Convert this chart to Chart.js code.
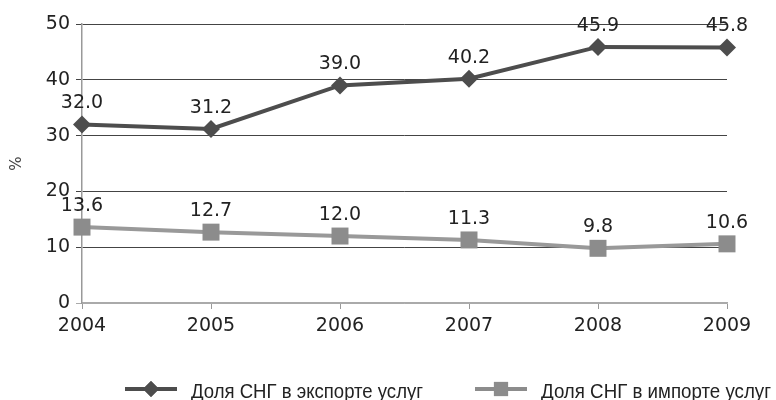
<!DOCTYPE html>
<html>
<head>
<meta charset="utf-8">
<script src="https://cdn.jsdelivr.net/npm/chart.js@4"></script>
<style>
  html, body { margin: 0; padding: 0; background: #fff; }
  #wrap { width: 776px; height: 400px; }
</style>
</head>
<body>
<div id="wrap"><canvas id="chart" width="776" height="400"></canvas></div>
<script>
// dados do gráfico
const years = ['2004', '2005', '2006', '2007', '2008', '2009'];
const exportShare = [32.0, 31.2, 39.0, 40.2, 45.9, 45.8];
const importShare = [13.6, 12.7, 12.0, 11.3, 9.8, 10.6];
const seriesNames = ['Доля СНГ в экспорте услуг', 'Доля СНГ в импорте услуг'];
const yTicks = [0, 10, 20, 30, 40, 50];

const tickFont = { family: 'DejaVu Sans', size: 19 };

// rótulos com os valores acima dos pontos
const valueLabels = {
    id: 'valueLabels',
    afterDatasetsDraw(chart) {
        const ctx = chart.ctx;
        ctx.save();
        ctx.font = '19px "DejaVu Sans"';
        ctx.fillStyle = '#222';
        ctx.textAlign = 'center';
        ctx.textBaseline = 'middle';
        chart.data.datasets.forEach((ds, i) => {
            chart.getDatasetMeta(i).data.forEach((pt, j) => {
                ctx.fillText(ds.data[j].toFixed(1), pt.x, pt.y - 21);
            });
        });
        ctx.restore();
    }
};

// legenda desenhada à mão (linha + marcador), texto estreitado
const bottomLegend = {
    id: 'bottomLegend',
    afterDraw(chart) {
        const ctx = chart.ctx;
        const items = [
            { x: 125, color: '#4d4d4d', style: 'rectRot', r: 8, w: 232 },
            { x: 475, color: '#8c8c8c', style: 'rect', r: 10, w: 230 }
        ];
        const y = 389;
        ctx.save();
        items.forEach((it, i) => {
            ctx.strokeStyle = it.color;
            ctx.lineWidth = 4;
            ctx.beginPath();
            ctx.moveTo(it.x, y);
            ctx.lineTo(it.x + 52, y);
            ctx.stroke();
            ctx.fillStyle = it.color;
            Chart.helpers.drawPoint(ctx, { pointStyle: it.style, radius: it.r, borderWidth: 0 }, it.x + 26, y);
            ctx.fill();

            ctx.fillStyle = '#222';
            ctx.font = '20px "Liberation Sans"';
            ctx.textAlign = 'left';
            ctx.textBaseline = 'middle';
            const tx = it.x + 66;
            const sx = it.w / ctx.measureText(seriesNames[i]).width;
            ctx.save();
            ctx.translate(tx, y + 3);
            ctx.scale(sx, 1);
            ctx.fillText(seriesNames[i], 0, 0);
            ctx.restore();
        });
        ctx.restore();
    }
};

new Chart(document.getElementById('chart'), {
    type: 'line',
    data: {
        labels: years,
        datasets: [{
            label: seriesNames[0],
            data: exportShare,
            borderColor: '#4d4d4d',
            backgroundColor: '#4d4d4d',
            borderWidth: 4,
            pointStyle: 'rectRot',
            pointRadius: 9,
            pointBorderWidth: 0,
            tension: 0
        }, {
            label: seriesNames[1],
            data: importShare,
            borderColor: '#999999',
            backgroundColor: '#8c8c8c',
            borderWidth: 4,
            pointStyle: 'rect',
            pointRadius: 12,
            pointBorderWidth: 0,
            tension: 0
        }]
    },
    options: {
        responsive: false,
        animation: false,
        layout: { padding: { left: 0, right: 49, top: 24, bottom: 0 } },
        plugins: {
            legend: { display: false },
            tooltip: { enabled: false }
        },
        scales: {
            x: {
                offset: false,
                grid: { drawOnChartArea: false, drawTicks: true, tickLength: 6, tickColor: '#999' },
                border: { color: '#aaa', width: 1.5 },
                ticks: { font: tickFont, color: '#222', padding: 6, maxRotation: 0 },
                afterFit(scale) { scale.height = 97; }
            },
            y: {
                min: 0,
                max: 50,
                afterBuildTicks(scale) { scale.ticks = yTicks.map(v => ({ value: v })); },
                grid: {
                    color: ctx => ctx.tick && ctx.tick.value === 0 ? '#aaa' : '#444',
                    tickLength: 6,
                    lineWidth: 1
                },
                border: { color: '#999', width: 1.5 },
                ticks: { font: tickFont, color: '#222', padding: 6 },
                title: { display: true, text: '%', font: { family: 'DejaVu Sans', size: 15 }, color: '#444', padding: { top: 8, bottom: 0 } },
                afterFit(scale) { scale.width = 82; }
            }
        }
    },
    plugins: [valueLabels, bottomLegend]
});
</script>
</body>
</html>
